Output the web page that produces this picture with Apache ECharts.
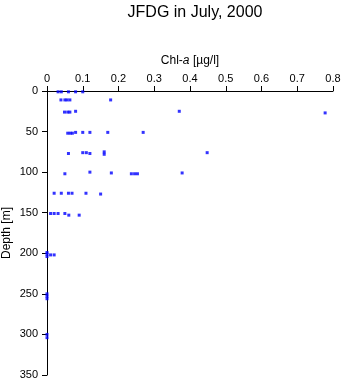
<!DOCTYPE html>
<html>
<head>
<meta charset="utf-8">
<script src="https://cdn.jsdelivr.net/npm/echarts@6/dist/echarts.min.js"></script>
<style>html,body{margin:0;padding:0;background:#fff}#c{width:343px;height:384px}</style>
</head>
<body>
<div id="c"></div>
<script>
var titleText = "JFDG in July, 2000";
var xTicks = [0, 0.1, 0.2, 0.3, 0.4, 0.5, 0.6, 0.7, 0.8];
var yTicks = [0, 50, 100, 150, 200, 250, 300, 350];
var chl = [
  0.031, 0.040, 0.060, 0.080, 0.100,
  0.039, 0.050, 0.056, 0.064, 0.178,
  0.049, 0.058, 0.064, 0.080, 0.370, 0.778,
  0.058, 0.065, 0.071, 0.080, 0.100, 0.120, 0.170, 0.269,
  0.060, 0.100, 0.110, 0.120, 0.160, 0.160, 0.448,
  0.050, 0.120, 0.180, 0.236, 0.245, 0.253, 0.378,
  0.020, 0.040, 0.060, 0.070, 0.109, 0.150,
  0.010, 0.020, 0.031, 0.050, 0.061, 0.090,
  0.000, 0.000, 0.000, 0.010, 0.020,
  0.000, 0.000, 0.000,
  0.000, 0.000
];
var depth = [
  1, 1, 1, 1, 1,
  11, 11, 11, 11, 11,
  26, 26, 26, 25, 25, 27,
  52, 52, 52, 51, 51, 51, 51, 51,
  77, 76, 76, 77, 75, 78, 76,
  102, 100, 101, 102, 102, 102, 101,
  126, 126, 126, 126, 126, 127,
  151, 151, 151, 151, 153, 153,
  201, 199, 204, 202, 202,
  250, 253, 256,
  300, 304
];
var points = chl.map(function (v, i) { return [v, depth[i]]; });

var chart = echarts.init(document.getElementById('c'), null, {renderer: 'canvas'});
var font = 'Liberation Sans, Arial, Helvetica, sans-serif';
chart.setOption({
  backgroundColor: '#fff',
  animation: false,
  title: {
    text: titleText,
    left: 190, top: 0, textAlign: 'center',
    textStyle: {fontFamily: font, fontSize: 16, fontWeight: 'normal', color: '#000'}
  },
  grid: {left: 47, right: 10, top: 91, bottom: 9, containLabel: false, outerBoundsMode: 'none'},
  xAxis: {
    type: 'value', position: 'top',
    min: xTicks[0], max: xTicks[xTicks.length - 1], interval: 0.1,
    name: 'Chl-{i|a} [µg/l]', nameLocation: 'middle', nameGap: 24, nameMoveOverlap: false,
    nameTextStyle: {fontFamily: font, fontSize: 12, color: '#000',
      rich: {i: {fontFamily: font, fontSize: 12, fontStyle: 'italic', color: '#000'}}},
    axisLine: {show: true, lineStyle: {color: '#000', width: 1}},
    axisTick: {show: true, inside: false, length: 5, lineStyle: {color: '#000'}},
    axisLabel: {fontFamily: font, fontSize: 11, color: '#000', margin: 7,
      formatter: function (v) { return String(Math.round(v * 10) / 10); }},
    splitLine: {show: false}
  },
  yAxis: {
    type: 'value', inverse: true,
    min: yTicks[0], max: yTicks[yTicks.length - 1], interval: 50,
    name: 'Depth [m]', nameLocation: 'middle', nameGap: 34, nameMoveOverlap: false,
    nameTextStyle: {fontFamily: font, fontSize: 12, color: '#000'},
    axisLine: {show: true, lineStyle: {color: '#000', width: 1}},
    axisTick: {show: true, inside: false, length: 5, lineStyle: {color: '#000'}},
    axisLabel: {fontFamily: font, fontSize: 11, color: '#000', margin: 9},
    splitLine: {show: false}
  },
  series: [{
    type: 'scatter',
    data: points,
    symbol: 'rect',
    symbolSize: 3,
    itemStyle: {color: '#0000ff'},
    clip: false
  }]
});
</script>
</body>
</html>
